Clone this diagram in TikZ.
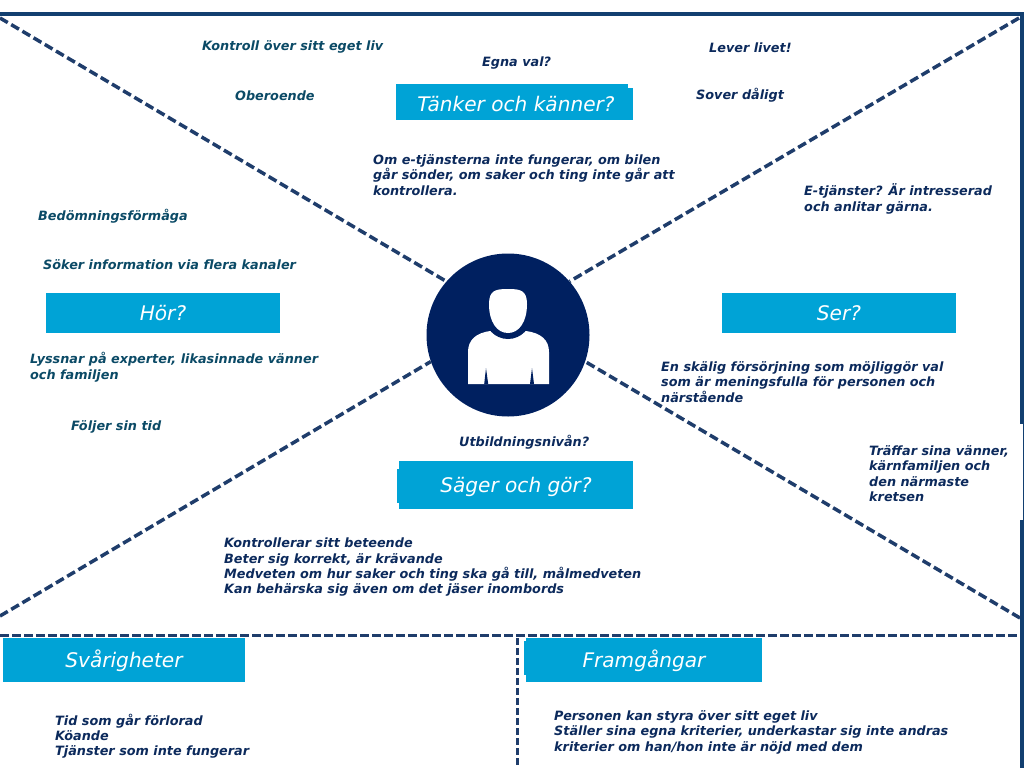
\documentclass[tikz,border=0pt]{standalone}
\usepackage{fontspec}
\setmainfont{DejaVu Sans}
\definecolor{navy}{HTML}{002060}
\definecolor{border}{HTML}{123F70}
\definecolor{dashc}{HTML}{1F3D6B}
\definecolor{boxc}{HTML}{00A3D6}
\definecolor{txta}{HTML}{0C2A5C}
\definecolor{txtb}{HTML}{0B4A66}
\newcommand{\ttl}[1]{\raisebox{-7.8pt}[0pt][0pt]{#1}}
\tikzset{
 lbl/.style={inner sep=0pt,anchor=west,align=left,yshift=-0.8pt,font=\fontsize{12.8}{15.4}\selectfont\bfseries\itshape},
 la/.style={lbl,text=txta},
 lb/.style={lbl,text=txtb},
 titlebox/.style={fill=boxc,inner sep=0pt,text=white,font=\fontsize{20.1}{24}\selectfont\itshape},
 diag/.style={draw=dashc,line width=3.5pt,dash pattern=on 9pt off 4pt},
 rule/.style={draw=dashc,line width=3pt,dash pattern=on 8.5pt off 3.5pt},
}
\begin{document}
\begin{tikzpicture}[x=1pt,y=-1pt]
\useasboundingbox (0,0) rectangle (1024,768);
% frame
\fill[border] (0,12.5) rectangle (1022,16.5);
\fill[border] (1019.5,12.5) rectangle (1024,424);
\fill[border] (1023,424) rectangle (1024,520);
\fill[border] (1019.5,520) rectangle (1024,768);
% hub
\node[circle,fill=navy,minimum size=163pt,inner sep=0pt] (hub) at (508,335) {};
% corners
\coordinate (tl) at (0,18);
\coordinate (tr) at (1019,18);
\coordinate (bl) at (0,616);
\coordinate (br) at (1020,618);
\coordinate (hl) at (0,635);
\coordinate (hr) at (1020,635);
\coordinate (vt) at (517,638);
\coordinate (vb) at (517,768);
\draw[diag] (tl) -- (hub.139);
\draw[diag] (tr) -- (hub.41.5);
\draw[diag] (bl) -- (hub.199.5);
\draw[diag] (br) -- (hub.-19);
\draw[rule] (hl) -- (hr);
\draw[rule,line width=3pt,dash pattern=on 7pt off 3pt] (vt) -- (vb);
% person
\fill[white] (468,384) -- (468,352) .. controls (468,340) and (476,333) .. (490,331)
 -- (526,331) .. controls (541,333) and (549,340) .. (549,352) -- (549,384) -- cycle;
\fill[navy] (508,315) ellipse [x radius=23.5,y radius=24];
\fill[white] (508,289) .. controls (496,289) and (489,290) .. (489,304)
 .. controls (489,322) and (497,333) .. (508,333)
 .. controls (519,333) and (527,322) .. (527,304)
 .. controls (527,290) and (520,289) .. (508,289) -- cycle;
\fill[navy] (486,368) -- (484.2,384) -- (488.2,384) -- cycle;
\fill[navy] (532,368) -- (530,384) -- (534,384) -- cycle;
% title box steps
\fill[boxc] (396,84) rectangle (628,90);
\fill[boxc] (397,469) rectangle (400,503);
\fill[boxc] (524,641) rectangle (527,675);
% title boxes
\node[titlebox,minimum width=237pt,minimum height=32pt] (t1) at (514.5,104) {\ttl{\hspace*{3pt}Tänker och känner?}};
\node[titlebox,minimum width=234pt,minimum height=40pt] (t2) at (163,313) {\ttl{Hör?}};
\node[titlebox,minimum width=234pt,minimum height=40pt] (t3) at (839,313) {\ttl{Ser?}};
\node[titlebox,minimum width=234pt,minimum height=48pt] (t4) at (516,485) {\ttl{Säger och gör?}};
\node[titlebox,minimum width=242pt,minimum height=44pt] (t5) at (124,660) {\ttl{Svårigheter}};
\node[titlebox,minimum width=236pt,minimum height=44pt] (t6) at (644,660) {\ttl{Framgångar}};
% texts
\node[lb] (a1) at (202,46) {Kontroll över sitt eget liv};
\node[la] (a2) at (482,62) {Egna val?};
\node[la] (a3) at (709,47) {Lever livet!};
\node[lb] (a4) at (235,94.5) {Oberoende};
\node[la] (a5) at (696,94.5) {Sover dåligt};
\node[la] (a6) at (373,174) {Om e-tjänsterna inte fungerar, om bilen\\går sönder, om saker och ting inte går att\\kontrollera.};
\node[la] (a7) at (804,198) {E-tjänster? Är intresserad\\och anlitar gärna.};
\node[lb] (a8) at (38,215.5) {Bedömningsförmåga};
\node[lb] (a9) at (43,263.5) {Söker information via flera kanaler};
\node[lb] (a10) at (30,366.5) {Lyssnar på experter, likasinnade vänner\\och familjen};
\node[lb] (a11) at (71,426) {Följer sin tid};
\node[la] (a12) at (661,381) {En skälig försörjning som möjliggör val\\som är meningsfulla för personen och\\närstående};
\node[la] (a13) at (459,441) {Utbildningsnivån?};
\node[la] (a14) at (869,473) {Träffar sina vänner,\\kärnfamiljen och\\den närmaste\\kretsen};
\node[la] (a15) at (224,566.5) {Kontrollerar sitt beteende\\Beter sig korrekt, är krävande\\Medveten om hur saker och ting ska gå till, målmedveten\\Kan behärska sig även om det jäser inombords};
\node[la] (a16) at (55,735.5) {Tid som går förlorad\\Köande\\Tjänster som inte fungerar};
\node[la] (a17) at (554,731.5) {Personen kan styra över sitt eget liv\\Ställer sina egna kriterier, underkastar sig inte andras\\kriterier om han/hon inte är nöjd med dem};
\end{tikzpicture}
\end{document}
